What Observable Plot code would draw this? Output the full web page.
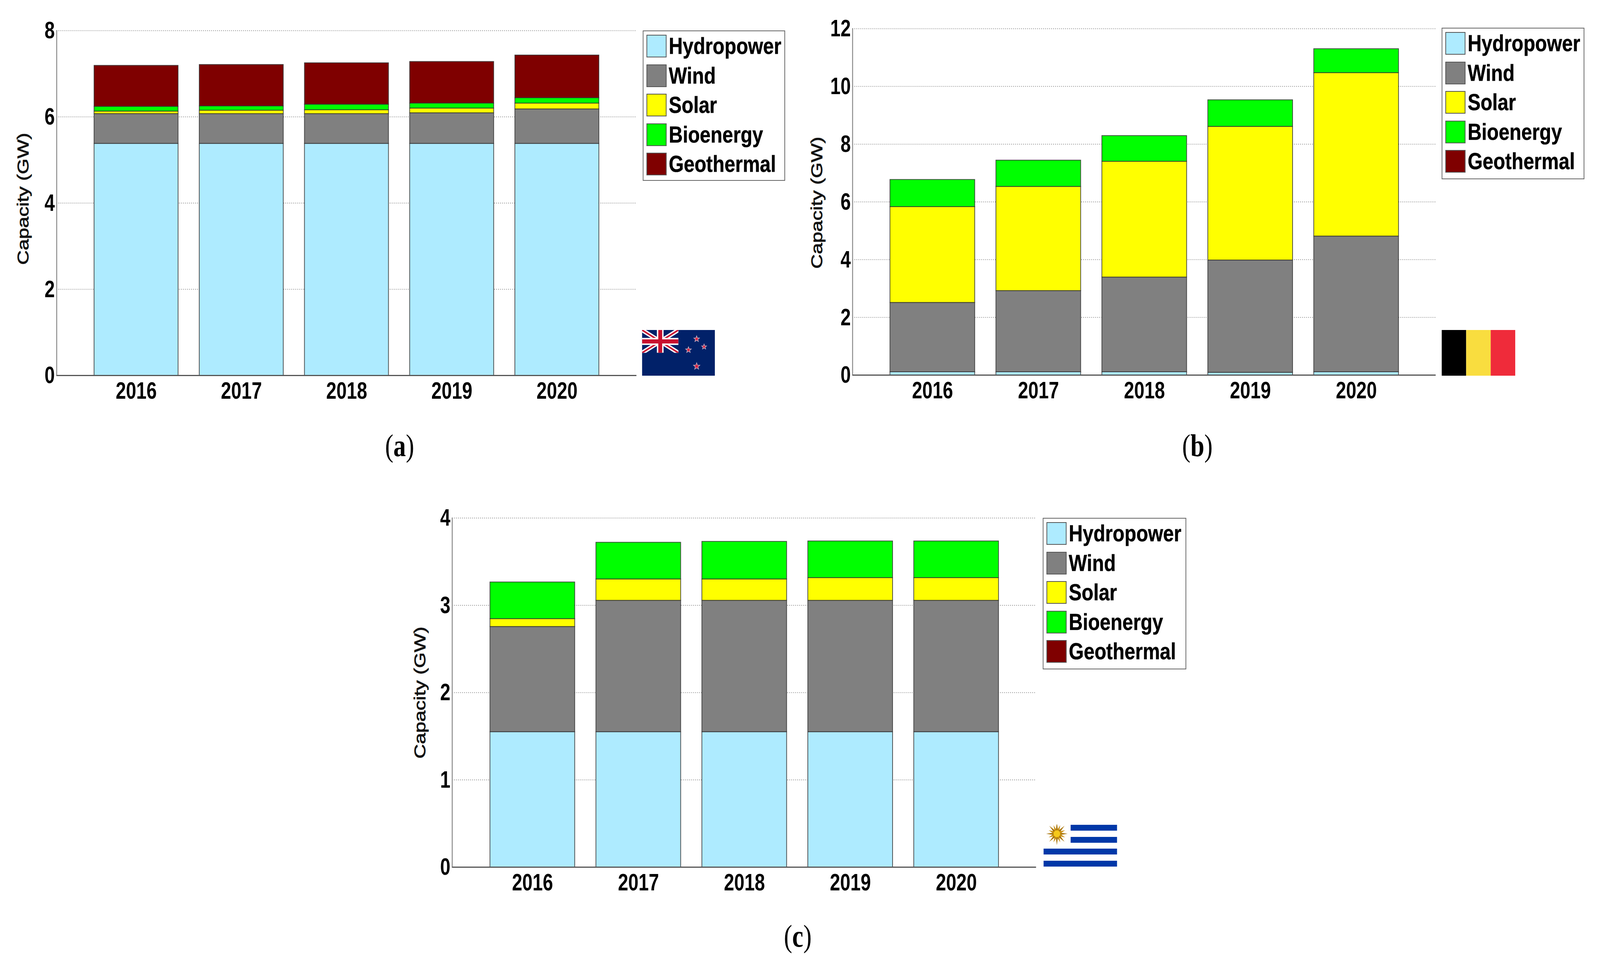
<!DOCTYPE html>
<html>
<head>
<meta charset="utf-8">
<script src="https://cdn.jsdelivr.net/npm/d3@7"></script>
<script src="https://cdn.jsdelivr.net/npm/@observablehq/plot@0.6"></script>
<style>
html,body{margin:0;padding:0;background:#fff;overflow:hidden;}
#page{position:relative;width:4304px;height:2471px;overflow:hidden;background:#fff;transform-origin:0 0;}
#page>svg,.abs{position:absolute;}
.legend{box-sizing:border-box;border:2.5px solid #666;background:#fff;font-family:"Liberation Sans",sans-serif;font-weight:bold;color:#000;}
.swatch{position:absolute;left:8px;width:54px;height:58px;box-sizing:border-box;border:2px solid #555;}
.label{position:absolute;left:68px;font-size:60px;line-height:60px;white-space:nowrap;transform:scaleX(0.865);transform-origin:left center;-webkit-text-stroke:0.6px #000;}
.cap{position:absolute;font-family:"Liberation Serif",serif;font-size:80px;line-height:80px;color:#000;transform:translateX(-50%) scaleX(0.84);}
.cap b{font-weight:bold;}
</style>
</head>
<body>
<div id="page"></div>
<script>
const years = ["2016","2017","2018","2019","2020"];
const sources = ["Hydropower","Wind","Solar","Bioenergy","Geothermal"];
const sourceColors = ["#aeebff","#808080","#ffff00","#00ff00","#7f0000"];

// New Zealand, layer sizes in GW
const nzHydro = [5.38,5.38,5.38,5.38,5.38];
const nzWind  = [0.69,0.69,0.69,0.71,0.80];
const nzSolar = [0.06,0.08,0.09,0.11,0.135];
const nzBio   = [0.11,0.10,0.13,0.115,0.125];
const nzGeo   = [0.95,0.96,0.96,0.965,0.99];

// Belgium
const beHydro = [0.11,0.11,0.11,0.09,0.11];
const beWind  = [2.40,2.81,3.28,3.89,4.70];
const beSolar = [3.32,3.61,4.01,4.63,5.66];
const beBio   = [0.94,0.91,0.89,0.92,0.83];
const beGeo   = [0,0,0,0,0];

// Uruguay
const uyHydro = [1.55,1.55,1.55,1.55,1.55];
const uyWind  = [1.205,1.505,1.505,1.505,1.505];
const uySolar = [0.09,0.245,0.245,0.26,0.26];
const uyBio   = [0.42,0.42,0.43,0.42,0.42];
const uyGeo   = [0,0,0,0,0];

const nzTicks = [0,2,4,6,8];
const beTicks = [0,2,4,6,8,10,12];
const uyTicks = [0,1,2,3,4];

const page = document.getElementById("page");
const sans = '"Liberation Sans",sans-serif';
// The browser window may be narrower than the reference: fit the full width into it.
page.style.transform = `scaleX(${Math.min(1, window.innerWidth/4304)})`;

function panel(cfg){
  const rows = [];
  cfg.series.forEach((vals,s)=>vals.forEach((v,i)=>{
    if(v>0) rows.push({year:years[i],source:sources[s],value:v});
  }));
  const chart = Plot.plot({
    width:cfg.width,height:cfg.height,
    marginLeft:cfg.marginLeft,marginRight:cfg.marginRight,marginTop:cfg.marginTop,marginBottom:cfg.marginBottom,
    style:{background:"transparent",fontFamily:sans,overflow:"visible"},
    x:{domain:years,paddingInner:0.2,paddingOuter:0.35,label:null,axis:null},
    y:{domain:cfg.domain,label:null,axis:null},
    color:{domain:sources,range:sourceColors},
    marks:[
      Plot.ruleY(cfg.ticks.filter(t=>t>0),{stroke:"#8a8a8a",strokeWidth:2,strokeDasharray:"2 3.4"}),
      Plot.frame({anchor:"left",stroke:"#888",strokeWidth:2.5}),
      Plot.barY(rows,{x:"year",y:"value",fill:"source",order:sources,stroke:"#333",strokeWidth:2,strokeOpacity:0.85}),
      Plot.ruleY([0],{stroke:"#555",strokeWidth:3}),
      Plot.axisX({tickSize:0,tickPadding:15,fontSize:62,fontWeight:"bold",label:null,fill:"#000",stroke:"#000",strokeWidth:0.6,className:"tk"}),
      Plot.axisY({ticks:cfg.ticks,tickFormat:d=>String(d),tickSize:0,tickPadding:5,fontSize:62,fontWeight:"bold",label:null,fill:"#000",stroke:"#000",strokeWidth:0.6,className:"tk"}),
      Plot.text(["Capacity (GW)"],{
        frameAnchor:"left",textAnchor:"middle",dx:cfg.labelDx,dy:cfg.labelDy,rotate:-90,
        fontSize:42,fontFamily:"Liberation Sans",fontWeight:"normal",fill:"#111",
        stroke:"#111",strokeWidth:1,className:"ylab"
      })
    ]
  });
  chart.style.left=cfg.left+"px";
  chart.style.top=cfg.top+"px";
  page.appendChild(chart);
  d3.select(chart).selectAll(".ylab text").attr("textLength",338).attr("lengthAdjust","spacingAndGlyphs");
  d3.select(chart).selectAll(".tk text").each(function(){
    this.setAttribute("textLength",this.getComputedTextLength()*0.8);
    this.setAttribute("lengthAdjust","spacingAndGlyphs");
  });
}

function legend(x,y,w,h){
  const box=document.createElement("div");
  box.className="legend abs";
  box.style.cssText+=`left:${x}px;top:${y}px;width:${w}px;height:${h}px;`;
  sources.forEach((name,i)=>{
    const sw=document.createElement("div");
    sw.className="swatch";
    sw.style.top=(9+i*75.6)+"px";
    sw.style.background=sourceColors[i];
    box.appendChild(sw);
    const t=document.createElement("div");
    t.className="label";
    t.style.top=(8+i*75.6)+"px";
    t.textContent=name;
    box.appendChild(t);
  });
  page.appendChild(box);
}

function flag(x,y,w,h,inner){
  const d=document.createElement("div");
  d.className="abs";
  d.style.cssText+=`left:${x}px;top:${y}px;width:${w}px;height:${h}px;`;
  d.innerHTML=`<svg width="${w}" height="${h}" viewBox="0 0 ${w} ${h}" style="display:block">${inner}</svg>`;
  page.appendChild(d);
}

function star(cx,cy,r,fill,stroke){
  let p=[];
  for(let i=0;i<10;i++){
    const rad=i%2?r*0.42:r, a=-Math.PI/2+i*Math.PI/5;
    p.push((cx+rad*Math.cos(a)).toFixed(2)+","+(cy+rad*Math.sin(a)).toFixed(2));
  }
  return `<polygon points="${p.join(" ")}" fill="${fill}" stroke="${stroke}" stroke-width="1.4"/>`;
}

function nzFlag(){
  const w=98,h=58.5;
  let s=`<rect width="196" height="117" fill="#012169"/>`;
  s+=`<clipPath id="cant"><rect width="${w}" height="${h}"/></clipPath><g clip-path="url(#cant)">`;
  s+=`<path d="M0 0L${w} ${h}M${w} 0L0 ${h}" stroke="#fff" stroke-width="11"/>`;
  s+=`<path d="M0 0L${w} ${h}M${w} 0L0 ${h}" stroke="#c8102e" stroke-width="4"/>`;
  s+=`<path d="M${w/2} 0V${h}M0 ${h/2}H${w}" stroke="#fff" stroke-width="18"/>`;
  s+=`<path d="M${w/2} 0V${h}M0 ${h/2}H${w}" stroke="#c8102e" stroke-width="10.5"/>`;
  s+=`</g>`;
  s+=star(147,23,8,"#d81e3e","#c9b6c6")+star(167,43,7,"#d81e3e","#c9b6c6")+star(125,51,8,"#d81e3e","#c9b6c6")+star(147,93,9,"#d81e3e","#c9b6c6");
  return s;
}

function beFlag(){
  return `<rect x="0" width="66" height="117" fill="#000"/><rect x="66" width="66" height="117" fill="#f9dd3f"/><rect x="132" width="66" height="117" fill="#ef2b3a"/>`;
}

function uyFlag(){
  let s=`<rect x="73" y="1" width="125" height="15" fill="#0038a8"/><rect x="73" y="32" width="125" height="15" fill="#0038a8"/>`;
  s+=`<rect x="0" y="62" width="198" height="15" fill="#0038a8"/><rect x="0" y="93" width="198" height="15" fill="#0038a8"/>`;
  const cx=36,cy=24;
  for(let i=0;i<16;i++){
    const a=i*Math.PI/8, r=i%2?24:29, bw=0.17;
    const x1=cx+9*Math.cos(a-bw*2),y1=cy+9*Math.sin(a-bw*2),x2=cx+r*Math.cos(a),y2=cy+r*Math.sin(a),x3=cx+9*Math.cos(a+bw*2),y3=cy+9*Math.sin(a+bw*2);
    s+=`<polygon points="${x1},${y1} ${x2},${y2} ${x3},${y3}" fill="${i%2?"#c98f10":"#a9760f"}"/>`;
  }
  s+=`<circle cx="${cx}" cy="${cy}" r="9" fill="#f6c81a" stroke="#d9a514" stroke-width="1"/>`;
  return s;
}

function caption(letter,x,y){
  const c=document.createElement("div");
  c.className="cap";
  c.style.left=x+"px";
  c.style.top=y+"px";
  c.innerHTML=`(<b>${letter}</b>)`;
  page.appendChild(c);
}

panel({left:0,top:0,width:1720,height:1050,marginLeft:152,marginRight:8,marginTop:78,marginBottom:89,
  domain:[0,8],ticks:nzTicks,labelDx:-89,labelDy:-11,
  series:[nzHydro,nzWind,nzSolar,nzBio,nzGeo]});
panel({left:2150,top:0,width:1720,height:1050,marginLeft:143,marginRight:8,marginTop:73,marginBottom:90,
  domain:[0,12],ticks:beTicks,labelDx:-95,labelDy:2,
  series:[beHydro,beWind,beSolar,beBio,beGeo]});
panel({left:1050,top:1250,width:1745,height:1050,marginLeft:166,marginRight:8,marginTop:76,marginBottom:80,
  domain:[0,4],ticks:uyTicks,labelDx:-86,labelDy:0,
  series:[uyHydro,uyWind,uySolar,uyBio,uyGeo]});

legend(1729,78,383,385);
legend(3878,71,384,388);
legend(2805,1326,386,388);

flag(1727,845,196,117,nzFlag());
flag(3878,845,198,117,beFlag());
flag(2807,2111,198,109,uyFlag());

caption("a",1075,1101);
caption("b",3221,1101);
caption("c",2146,2357);
</script>
</body>
</html>
